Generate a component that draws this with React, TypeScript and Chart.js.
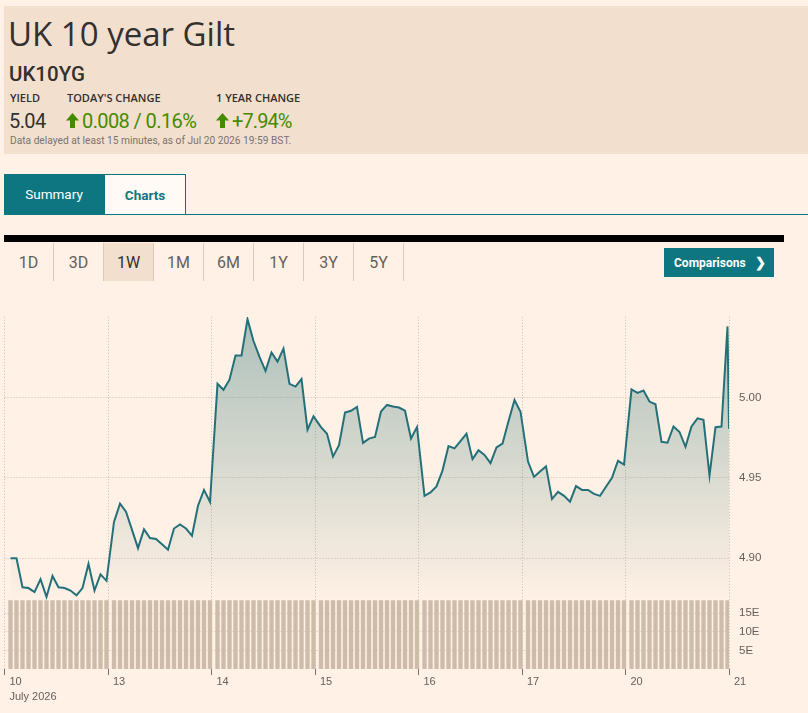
import React, { useEffect, useRef } from 'react';
import { Chart, registerables } from 'chart.js';

Chart.register(...registerables);

// ---- data ----
const dayLabels = ['10', '13', '14', '15', '16', '17', '20', '21'];
const monthLabel = 'July 2026';

const yieldJul10 = [4.900, 4.900, 4.882, 4.8815, 4.879, 4.887, 4.876, 4.889, 4.882, 4.8815, 4.880, 4.877, 4.8815, 4.8965, 4.880, 4.890, 4.886];
const yieldJul13 = [4.9226, 4.934, 4.929, 4.9177, 4.9063, 4.918, 4.9126, 4.912, 4.9087, 4.9053, 4.9185, 4.921, 4.9185, 4.914, 4.9327, 4.9425, 4.935];
const yieldJul14 = [5.0084, 5.0047, 5.011, 5.026, 5.026, 5.0486, 5.035, 5.0252, 5.0165, 5.0279, 5.0222, 5.0303, 5.0084, 5.0067, 5.0114, 4.9799, 4.9882];
const yieldJul15 = [4.9815, 4.9774, 4.9632, 4.9703, 4.9906, 4.9917, 4.9941, 4.9717, 4.9744, 4.9754, 4.9912, 4.9953, 4.9943, 4.9937, 4.9917, 4.9744, 4.9815];
const yieldJul16 = [4.9388, 4.9409, 4.9447, 4.9545, 4.9697, 4.9683, 4.9728, 4.9774, 4.9616, 4.9671, 4.9642, 4.9591, 4.9689, 4.9713, 4.9852, 4.9984, 4.9911];
const yieldJul17 = [4.9601, 4.9506, 4.9539, 4.9571, 4.9368, 4.9413, 4.9388, 4.9352, 4.9449, 4.9425, 4.9425, 4.9400, 4.9388, 4.9445, 4.9500, 4.9606, 4.9583];
const yieldJul20 = [5.0049, 5.0028, 5.0043, 4.9974, 4.9957, 4.9724, 4.9718, 4.9819, 4.9785, 4.9693, 4.9819, 4.9870, 4.9860, 4.9514, 4.9815, 4.9819, 5.0441];
const yieldClose = 4.9805;

// volume per half-hour slot (in E units)
const volJul10 = [18.4, 18.4, 18.4, 18.4, 18.4, 18.4, 18.4, 18.4, 18.4, 18.4, 18.4, 18.4, 18.4, 18.4, 18.4, 18.4, 18.4];
const volJul13 = [18.4, 18.4, 18.4, 18.4, 18.4, 18.4, 18.4, 18.4, 18.4, 18.4, 18.4, 18.4, 18.4, 18.4, 18.4, 18.4, 18.4];
const volJul14 = [18.4, 18.4, 18.4, 18.4, 18.4, 18.4, 18.4, 18.4, 18.4, 18.4, 18.4, 18.4, 18.4, 18.4, 18.4, 18.4, 18.4];
const volJul15 = [18.4, 18.4, 18.4, 18.4, 18.4, 18.4, 18.4, 18.4, 18.4, 18.4, 18.4, 18.4, 18.4, 18.4, 18.4, 18.4, 18.4];
const volJul16 = [18.4, 18.4, 18.4, 18.4, 18.4, 18.4, 18.4, 18.4, 18.4, 18.4, 18.4, 18.4, 18.4, 18.4, 18.4, 18.4, 18.4];
const volJul17 = [18.4, 18.4, 18.4, 18.4, 18.4, 18.4, 18.4, 18.4, 18.4, 18.4, 18.4, 18.4, 18.4, 18.4, 18.4, 18.4, 18.4];
const volJul20 = [18.4, 18.4, 18.4, 18.4, 18.4, 18.4, 18.4, 18.4, 18.4, 18.4, 18.4, 18.4, 18.4, 18.4, 18.4, 18.4, 18.4];

const yieldTicks = [4.9, 4.95, 5.0];
const volumeTicks = [5, 10, 15];
const rangeButtons = ['1D', '3D', '1W', '1M', '6M', '1Y', '3Y', '5Y'];

// ---- helpers ----
const yieldDays = [yieldJul10, yieldJul13, yieldJul14, yieldJul15, yieldJul16, yieldJul17, yieldJul20];
const volDays = [volJul10, volJul13, volJul14, volJul15, volJul16, volJul17, volJul20];
const SLOTS_PER_DAY = 17.25; // 17 half-hour slots + overnight gap

function dayPoints(days: number[][]) {
  const out: { x: number; y: number }[] = [];
  days.forEach((arr, d) => arr.forEach((v, j) => out.push({ x: d * SLOTS_PER_DAY + 1 + j, y: v })));
  return out;
}

const TEAL = '#0d7680';
const TEXT = '#33302e';
const GREY = '#66605c';
const GRID = 'rgba(110,95,80,0.35)';
const FONT = 'Roboto, "Noto Sans", sans-serif';
const WIDE_FONT = '"Open Sans", "Noto Sans", sans-serif';
const AXIS_FONT = '"Liberation Sans", Arial, sans-serif';

function UpArrow({ left, top }: { left: number; top: number }) {
  return (
    <svg width={13} height={15} viewBox="0 0 13 15" style={{ position: 'absolute', left, top }}>
      <polygon points="6.5,0 13,7.5 9,7.5 9,15 4,15 4,7.5 0,7.5" fill="#458b00" />
    </svg>
  );
}

function PriceChart() {
  const ref = useRef<HTMLCanvasElement | null>(null);
  useEffect(() => {
    if (!ref.current) return;
    const linePts = dayPoints(yieldDays);
    linePts.push({ x: (dayLabels.length - 1) * SLOTS_PER_DAY, y: yieldClose });
    const volPts = dayPoints(volDays);
    const dayTickValues = dayLabels.map((_, i) => i * SLOTS_PER_DAY);

    const chart = new Chart(ref.current, {
      data: {
        datasets: [
          {
            type: 'line',
            data: linePts,
            xAxisID: 'x',
            yAxisID: 'y',
            borderColor: '#24707a',
            borderWidth: 2,
            pointRadius: 0,
            tension: 0,
            fill: 'start',
            backgroundColor: (ctx: any) => {
              const c = ctx.chart;
              const s = c.scales?.y;
              if (!c.chartArea || !s || !isFinite(s.top) || !isFinite(s.bottom) || s.bottom <= s.top) {
                return 'rgba(38,115,122,0.2)';
              }
              const g = c.ctx.createLinearGradient(0, s.top, 0, s.bottom);
              g.addColorStop(0, 'rgba(38,112,115,0.38)');
              g.addColorStop(1, 'rgba(38,112,115,0.0)');
              return g;
            },
          } as any,
          {
            type: 'bar',
            data: volPts,
            xAxisID: 'x',
            yAxisID: 'v',
            backgroundColor: '#cebcaa',
            barThickness: 3.7,
          } as any,
        ],
      },
      options: {
        animation: false,
        responsive: false,
        maintainAspectRatio: false,
        events: [],
        plugins: { legend: { display: false }, tooltip: { enabled: false } },
        layout: { padding: { left: 4.5, top: 11, right: 0, bottom: 0 } },
        scales: {
          x: {
            type: 'linear',
            position: 'bottom',
            offset: false,
            min: 0,
            max: 7 * SLOTS_PER_DAY,
            afterBuildTicks: (s: any) => {
              s.ticks = dayTickValues.map((v) => ({ value: v }));
            },
            afterFit: (s: any) => {
              s.height = 44;
            },
            ticks: {
              autoSkip: false,
              maxRotation: 0,
              align: 'start',
              labelOffset: 5,
              padding: 0,
              color: GREY,
              font: { family: AXIS_FONT, size: 11, lineHeight: 1.35 },
              callback: (_v: any, i: number) => (i === 0 ? [dayLabels[i], monthLabel] : dayLabels[i]),
            },
            grid: { offset: false, color: GRID, tickColor: '#77706a', tickLength: 6, tickBorderDash: [] },
            border: { display: false, dash: [1, 2] },
          },
          y: {
            type: 'linear',
            position: 'right',
            stack: 'panels',
            stackWeight: 288,
            min: 4.874,
            max: 5.05,
            afterBuildTicks: (s: any) => {
              s.ticks = yieldTicks.map((v) => ({ value: v }));
            },
            afterFit: (s: any) => {
              s.width = 79;
            },
            ticks: {
              padding: 10,
              color: GREY,
              font: { family: AXIS_FONT, size: 11.5 },
              callback: (v: any) => Number(v).toFixed(2),
            },
            grid: { color: GRID, drawTicks: false },
            border: { display: false, dash: [1, 2] },
          },
          v: {
            type: 'linear',
            position: 'right',
            stack: 'panels',
            stackWeight: 70,
            min: 0,
            max: 18.45,
            afterBuildTicks: (s: any) => {
              s.ticks = volumeTicks.map((v) => ({ value: v }));
            },
            afterFit: (s: any) => {
              s.width = 79;
            },
            ticks: {
              padding: 10,
              color: GREY,
              font: { family: AXIS_FONT, size: 11.5 },
              callback: (v: any) => `${v}E`,
            },
            grid: { color: GRID, drawTicks: false },
            border: { display: false, dash: [1, 2] },
          },
        },
      } as any,
    });
    return () => chart.destroy();
  }, []);
  return (
    <canvas
      ref={ref}
      width={808}
      height={413}
      style={{ position: 'absolute', left: 0, top: 300, width: 808, height: 413 }}
    />
  );
}

export default function App() {
  const abs = (left: number, top: number, size: number, extra: any = {}) => ({
    position: 'absolute' as const,
    left,
    top,
    fontSize: size,
    lineHeight: `${size}px`,
    whiteSpace: 'nowrap' as const,
    fontFamily: FONT,
    color: TEXT,
    ...extra,
  });
  const label = { fontWeight: 600, fontFamily: WIDE_FONT };
  const num = { letterSpacing: -0.6 };
  return (
    <div
      style={{
        position: 'absolute',
        left: 0,
        top: 0,
        width: 808,
        height: 713,
        background: '#fff1e5',
        overflow: 'hidden',
        fontFamily: FONT,
      }}
    >
      {/* header */}
      <div style={{ position: 'absolute', left: 4, top: 6, width: 804, height: 148, background: '#f2dfce' }} />
      <div style={abs(8, 17.2, 33, { fontFamily: WIDE_FONT })}>UK 10 year Gilt</div>
      <div style={abs(9, 63.5, 20.5, { fontWeight: 500 })}>UK10YG</div>
      <div style={abs(10, 92.2, 11, label)}>YIELD</div>
      <div style={abs(67, 92.2, 11, label)}>TODAY'S CHANGE</div>
      <div style={abs(216, 92.2, 11, label)}>1 YEAR CHANGE</div>
      <div style={abs(9, 110.5, 20, num)}>5.04</div>
      <UpArrow left={66} top={112.5} />
      <div style={abs(82, 110.5, 20, { color: '#458b00', ...num })}>0.008 / 0.16%</div>
      <UpArrow left={216} top={112.5} />
      <div style={abs(232, 110.5, 20, { color: '#458b00', letterSpacing: -0.9 })}>+7.94%</div>
      <div style={abs(10, 136.4, 10.2, { color: '#7a736e' })}>
        Data delayed at least 15 minutes, as of Jul 20 2026 19:59 BST.
      </div>

      {/* tabs */}
      <div
        style={{
          position: 'absolute', left: 4, top: 174, width: 100, height: 40, background: TEAL, color: '#fff',
          display: 'flex', alignItems: 'center', justifyContent: 'center', fontSize: 13.5,
        }}
      >
        Summary
      </div>
      <div
        style={{
          position: 'absolute', left: 104, top: 174, width: 80, height: 39, background: '#fffaf5',
          border: `1px solid ${TEAL}`, borderBottom: 'none', color: TEAL, fontWeight: 700,
          display: 'flex', alignItems: 'center', justifyContent: 'center', fontSize: 13.5,
        }}
      >
        Charts
      </div>
      <div style={{ position: 'absolute', left: 4, top: 213.5, width: 804, height: 1, background: TEAL }} />

      {/* black bar */}
      <div style={{ position: 'absolute', left: 4, top: 235, width: 780, height: 7, background: '#000' }} />

      {/* range buttons */}
      {rangeButtons.map((b, i) => (
        <div
          key={b}
          style={{
            position: 'absolute', left: 4 + i * 50, top: 243, width: 50, height: 38,
            boxSizing: 'border-box',
            borderRight: '1px solid #dccbbb',
            background: b === '1W' ? '#f2dfce' : 'transparent',
            color: b === '1W' ? TEXT : GREY,
            display: 'flex', alignItems: 'center', justifyContent: 'center', fontSize: 16,
          }}
        >
          {b}
        </div>
      ))}

      {/* comparisons button */}
      <div
        style={{
          position: 'absolute', left: 664, top: 248, width: 110, height: 29, background: TEAL, color: '#fff',
          fontWeight: 700, fontSize: 12, display: 'flex', alignItems: 'center',
        }}
      >
        <span style={{ marginLeft: 10 }}>Comparisons</span>
        <span style={{ position: 'absolute', left: 91, fontSize: 13 }}>❯</span>
      </div>

      <PriceChart />
    </div>
  );
}
